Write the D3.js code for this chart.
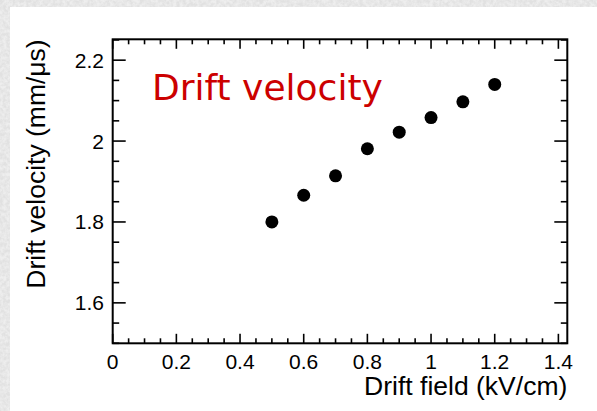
<!DOCTYPE html>
<meta charset="utf-8">
<style>
body { margin: 0; overflow: hidden; }
.tick-label { font: 21px "Liberation Sans", Arial, sans-serif; fill: #000; }
.axis-title { font: 26.5px "Liberation Sans", Arial, sans-serif; fill: #000; }
</style>
<body>
<script src="https://d3js.org/d3.v7.min.js"></script>
<script>
// data
var fieldKVcm = [0.5, 0.6, 0.7, 0.8, 0.9, 1.0, 1.1, 1.2];
var velocity = [1.800, 1.866, 1.914, 1.981, 2.022, 2.058, 2.097, 2.140];
var xTicks = [0, 0.2, 0.4, 0.6, 0.8, 1, 1.2, 1.4];
var yTicks = [1.6, 1.8, 2, 2.2];

var W = 597, H = 411;
var frame = {left: 112.7, top: 39.3, right: 567.3, bottom: 343.3};

var svg = d3.select("body").append("svg")
    .attr("width", W).attr("height", H);

// textured grey backdrop
var defs = svg.append("defs");
var f = defs.append("filter").attr("id", "grain")
    .attr("x", 0).attr("y", 0).attr("width", "100%").attr("height", "100%");
f.append("feTurbulence").attr("type", "fractalNoise")
    .attr("baseFrequency", 0.3).attr("numOctaves", 3).attr("seed", 4);
f.append("feColorMatrix").attr("type", "matrix")
    .attr("values", "0 0 0 0 0.75  0 0 0 0 0.75  0 0 0 0 0.75  0 0 0 -2.2 1.6");
svg.append("rect").attr("width", W).attr("height", H).attr("fill", "#eeeeee");
svg.append("rect").attr("width", W).attr("height", H).attr("filter", "url(#grain)");

// white page
svg.append("rect").attr("x", 10).attr("y", 7)
    .attr("width", W - 10).attr("height", H - 7).attr("fill", "#fff");

var x = d3.scaleLinear().domain([0, 1.428]).range([frame.left, frame.right]);
var y = d3.scaleLinear().domain([1.5, 2.2516]).range([frame.bottom, frame.top]);

var minorX = d3.range(0, 1.43, 0.05), minorY = d3.range(1.5, 2.26, 0.05);

// ticks (bottom, top, left, right)
var g = svg.append("g").attr("stroke", "#000").attr("stroke-width", 1.6);
minorX.forEach(function(v) {
  var major = xTicks.some(function(t) { return Math.abs(t - v) < 1e-6; });
  var len = major ? 9.5 : 5;
  g.append("line").attr("x1", x(v)).attr("x2", x(v))
    .attr("y1", frame.bottom).attr("y2", frame.bottom - len);
  g.append("line").attr("x1", x(v)).attr("x2", x(v))
    .attr("y1", frame.top).attr("y2", frame.top + len);
});
minorY.forEach(function(v) {
  var major = yTicks.some(function(t) { return Math.abs(t - v) < 1e-6; });
  var len = major ? 13 : 6.5;
  g.append("line").attr("y1", y(v)).attr("y2", y(v))
    .attr("x1", frame.left).attr("x2", frame.left + len);
  g.append("line").attr("y1", y(v)).attr("y2", y(v))
    .attr("x1", frame.right).attr("x2", frame.right - len);
});

// frame
svg.append("rect")
    .attr("x", frame.left).attr("y", frame.top)
    .attr("width", frame.right - frame.left).attr("height", frame.bottom - frame.top)
    .attr("fill", "none").attr("stroke", "#000").attr("stroke-width", 2);

// tick labels
svg.selectAll(".xl").data(xTicks).enter().append("text")
    .attr("class", "tick-label")
    .attr("x", function(d) { return x(d); }).attr("y", 369)
    .attr("text-anchor", "middle")
    .text(function(d) { return d; });
svg.selectAll(".yl").data(yTicks).enter().append("text")
    .attr("class", "tick-label")
    .attr("x", 104).attr("y", function(d) { return y(d) + 7.5; })
    .attr("text-anchor", "end")
    .text(function(d) { return d; });

// axis titles
svg.append("text").attr("class", "axis-title")
    .attr("x", frame.right).attr("y", 395)
    .attr("text-anchor", "end")
    .text("Drift field (kV/cm)");
svg.append("text").attr("class", "axis-title")
    .attr("transform", "translate(45," + frame.top + ") rotate(-90)")
    .attr("text-anchor", "end")
    .text("Drift velocity (mm/\u03bcs)");

// label in plot
svg.append("text")
    .attr("x", 152).attr("y", 100)
    .style("font", '36px "DejaVu Sans", Verdana, sans-serif')
    .attr("fill", "#cc0000")
    .text("Drift velocity");

// points
svg.selectAll(".pt").data(fieldKVcm).enter().append("circle")
    .attr("cx", function(d) { return x(d); })
    .attr("cy", function(d, i) { return y(velocity[i]); })
    .attr("r", 6.5).attr("fill", "#000");
</script>
</body>
